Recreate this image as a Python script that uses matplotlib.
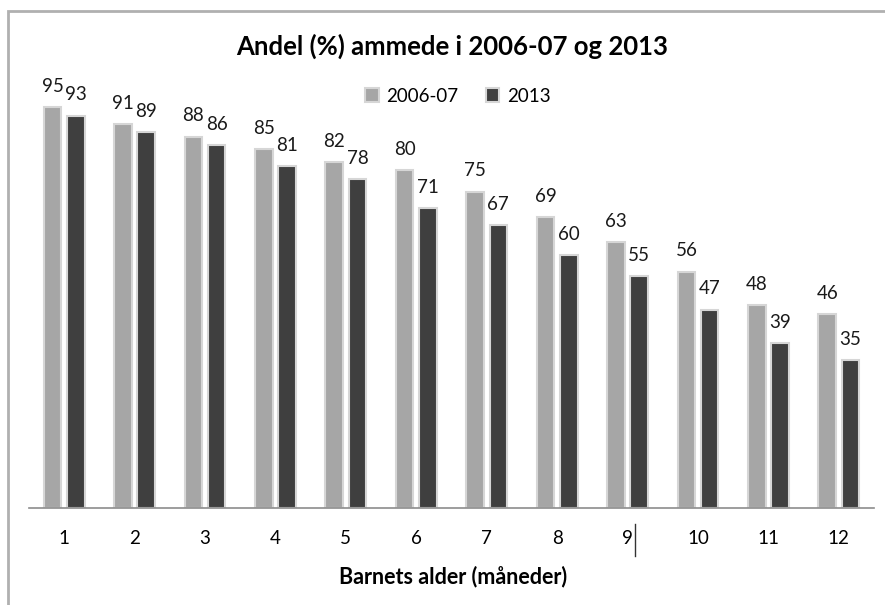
import numpy as np
import matplotlib
matplotlib.use("Agg")
import matplotlib.pyplot as plt
from matplotlib.patches import Rectangle
from matplotlib.lines import Line2D

plt.rcParams['font.family'] = ['Lato', 'DejaVu Sans']

# data
months = ['1', '2', '3', '4', '5', '6', '7', '8', '9', '10', '11', '12']
andel_2006 = [95, 91, 88, 85, 82, 80, 75, 69, 63, 56, 48, 46]
andel_2013 = [93, 89, 86, 81, 78, 71, 67, 60, 55, 47, 39, 35]
series_names = ['2006-07', '2013']

light = '#a6a6a6'
dark = '#3f3f3f'
glow = '#d6d6d6'

fig = plt.figure(figsize=(8.85, 6.05), dpi=100)
ax = fig.add_axes([29 / 885, 97 / 605, 845 / 885, 422 / 605])

x = np.arange(1, len(months) + 1)
w = 0.25
off = 0.165

b1 = ax.bar(x - off, andel_2006, w, color=light, edgecolor=glow, linewidth=1.5,
            label=series_names[0], zorder=2)
b2 = ax.bar(x + off, andel_2013, w, color=dark, edgecolor=glow, linewidth=1.5,
            label=series_names[1], zorder=2)

for bars, vals in [(b1, andel_2006), (b2, andel_2013)]:
    for r, v in zip(bars, vals):
        ax.annotate(str(v), (r.get_x() + r.get_width() / 2, v),
                    xytext=(0, 11), textcoords='offset points',
                    ha='center', va='baseline', fontsize=13.5, color='#1a1a1a')

ax.set_xlim(0.5, 12.5)
ax.set_ylim(0, 100)
ax.set_xticks(x)
ax.set_xticklabels(months, fontsize=13.5)
ax.tick_params(axis='x', length=0, pad=16)
ax.set_yticks([])
for s in ['top', 'right', 'left']:
    ax.spines[s].set_visible(False)
ax.spines['bottom'].set_color('#8c8c8c')
ax.spines['bottom'].set_linewidth(1.2)

fig.text(452 / 885, 1 - 46 / 605, 'Andel (%) ammede i 2006-07 og 2013',
         ha='center', va='center', fontsize=18.5, fontweight='bold')
fig.text(453 / 885, 1 - 577 / 605, 'Barnets alder (måneder)',
         ha='center', va='center', fontsize=15.5, fontweight='bold')

fig.legend(handles=[b1, b2], labels=series_names, loc='center',
           bbox_to_anchor=(458 / 885, 1 - 96 / 605), ncol=2, frameon=False,
           fontsize=13.5, handlelength=0.7, handleheight=0.7, handletextpad=0.4,
           columnspacing=1.5)

# outer chart border (cut off at right and bottom)
fig.patches.append(Rectangle((8 / 885, -0.1), 2, 1 - 11 / 605 + 0.1,
                             transform=fig.transFigure, fill=False,
                             edgecolor='#b0b0b0', linewidth=2))
# stray cursor mark next to "9"
fig.lines.append(Line2D([635 / 885, 635 / 885], [1 - 524 / 605, 1 - 556 / 605],
                        transform=fig.transFigure, color='#333333', linewidth=1))

fig.savefig('out.png', dpi=100)
